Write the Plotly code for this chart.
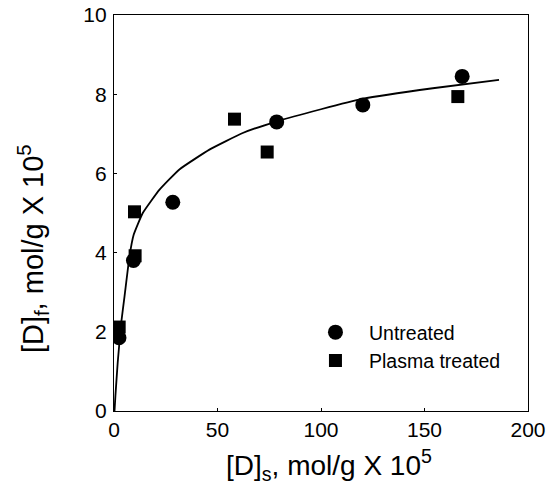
import plotly.graph_objects as go

# Untreated (circles)
untreated_x = [2.4, 9.4, 28.4, 78.6, 120.2, 168.2]
untreated_y = [1.85, 3.80, 5.27, 7.30, 7.73, 8.45]

# Plasma treated (squares)
plasma_x = [2.5, 10.2, 9.9, 58.2, 74.0, 166.1]
plasma_y = [2.12, 3.92, 5.03, 7.37, 6.54, 7.94]

# Fitted curve
curve_x = [0.25, 0.7, 1.8, 3.5, 5.1, 7.5, 9.5, 13.9, 22.0, 31.6, 46.1, 62.2, 78.4, 100.0, 120.0, 154.0, 186.0]
curve_y = [0.00, 0.40, 1.23, 2.23, 2.90, 3.91, 4.45, 5.00, 5.59, 6.10, 6.60, 7.02, 7.31, 7.62, 7.88, 8.15, 8.36]

x_ticks = [0, 50, 100, 150, 200]
y_ticks = [0, 2, 4, 6, 8, 10]

x_title = "[D]<sub>s</sub>, mol/g X 10<sup>5</sup>"
y_title = "[D]<sub>f</sub>, mol/g X 10<sup>5</sup>"

FONT = "Liberation Sans, Arial, sans-serif"

fig = go.Figure()
fig.add_trace(go.Scatter(x=curve_x, y=curve_y, mode="lines",
                         line=dict(color="black", width=1.8, shape="spline", smoothing=0.4),
                         showlegend=False, hoverinfo="skip"))
fig.add_trace(go.Scatter(x=untreated_x, y=untreated_y, mode="markers", name="Untreated", legendgroup="a",
                         marker=dict(symbol="circle", size=15, color="black")))
fig.add_trace(go.Scatter(x=plasma_x, y=plasma_y, mode="markers", name="Plasma treated", legendgroup="b",
                         marker=dict(symbol="square", size=13, color="black")))

axis_common = dict(showline=True, linecolor="black", linewidth=1.4, mirror=True,
                   ticks="inside", ticklen=3, tickcolor="black", showgrid=False, zeroline=False,
                   tickfont=dict(size=21), automargin=False, ticklabeloverflow="allow")

fig.update_layout(
    width=550, height=488,
    margin=dict(l=114, r=22, t=15, b=77),
    paper_bgcolor="white", plot_bgcolor="white",
    font=dict(family=FONT, color="black", size=16),
    legend=dict(x=0.454, y=0.2475, xanchor="left", yanchor="top", bgcolor="rgba(0,0,0,0)",
                font=dict(size=19.5, family=FONT), itemsizing="trace", tracegroupgap=0,
                itemwidth=57),
    xaxis=dict(range=[0, 200], tickvals=x_ticks, **axis_common),
    yaxis=dict(range=[0, 10], tickvals=y_ticks, ticklabelstandoff=2, **axis_common),
    annotations=[
        dict(text=x_title, xref="paper", yref="paper", x=0.52, y=-0.1375,
             xanchor="center", yanchor="middle", showarrow=False, font=dict(size=28)),
        dict(text=y_title, xref="paper", yref="paper", x=-0.197, y=0.41, textangle=-90,
             xanchor="center", yanchor="middle", showarrow=False, font=dict(size=29)),
    ],
)

# remove the default page margin so the figure sits at the window's top-left corner
fig.write_html("out.html", config={"displayModeBar": False},
               post_script="document.body.style.margin='0';")
